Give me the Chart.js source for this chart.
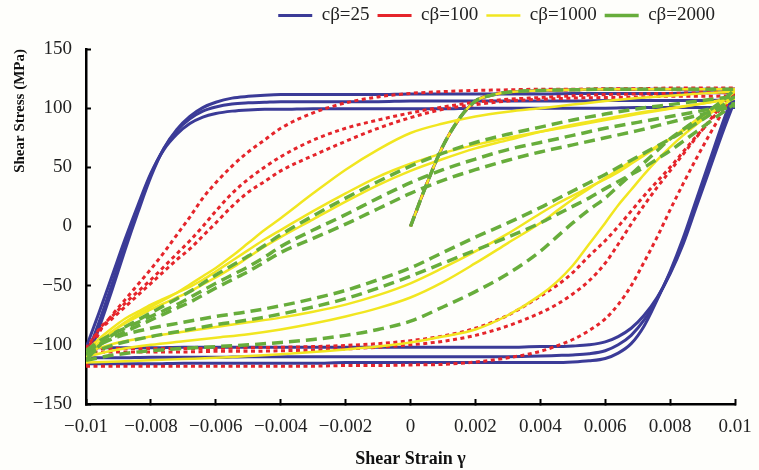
<!DOCTYPE html>
<html lang="en">
<head>
    <meta charset="UTF-8">
    <title>Shear stress - shear strain loops</title>
    <script src="https://cdn.jsdelivr.net/npm/chart.js"></script>
    <style>
        body {
            margin: 0;
            background: #fefefb;
        }
        .chart-box {
            width: 759px;
            height: 470px;
        }
    </style>
</head>
<body>
    <div class="chart-box">
        <canvas id="loopChart" width="759" height="470"></canvas>
    </div>

    <script>
        // strain grids: loading branches are sampled finer near -0.01, unloading near +0.01
        const strainUp = [-0.01, -0.0096, -0.0092, -0.0088, -0.0084, -0.008, -0.0076, -0.0072, -0.0068, -0.0064,
            -0.006, -0.0055, -0.005, -0.0045, -0.004, -0.003, -0.002, -0.001, 0,
            0.001, 0.002, 0.003, 0.004, 0.005, 0.006, 0.007, 0.008, 0.009, 0.01];
        const strainDown = [-0.01, -0.009, -0.008, -0.007, -0.006, -0.005, -0.004, -0.003, -0.002, -0.001,
            0, 0.001, 0.002, 0.003, 0.004, 0.0045, 0.005, 0.0055, 0.006,
            0.0064, 0.0068, 0.0072, 0.0076, 0.008, 0.0084, 0.0088, 0.0092, 0.0096, 0.01];

        // first loading from the origin (MPa)
        const strainFirst = [0, 0.0005, 0.001, 0.0015, 0.002, 0.0025, 0.003, 0.004, 0.005, 0.006, 0.007, 0.008, 0.009, 0.01];
        const stressFirst = [0, 36, 68, 91, 106, 111, 113.5, 115, 115.5, 116, 116, 116, 116, 116];

        const seriesLabels = ['cβ=25', 'cβ=100', 'cβ=1000', 'cβ=2000'];
        const strainLabels = ['−0.01', '−0.008', '−0.006', '−0.004', '−0.002', '0', '0.002', '0.004', '0.006', '0.008', '0.01'];
        const stressLabels = ['−150', '−100', '−50', '0', '50', '100', '150'];

        // cβ = 25
        const blueDown1 = [-116, -116, -116, -115.5, -115.5, -115.5, -115.5, -115.5, -115, -115, -115, -115, -115, -115, -115, -115, -114.5, -113.5, -111.5, -107, -99, -84, -62, -38, -10, 22, 54, 86, 116];
        const blueUp1 = [-116, -86, -54, -20, 12, 42, 66, 82, 93, 100.5, 105, 108.5, 110, 111, 111.5, 111.5, 111.5, 111.5, 112, 112, 112, 112, 112, 112.5, 112.5, 112.5, 112.5, 113, 113];
        const blueDown2 = [-111, -111, -110.5, -110.5, -110.5, -110, -110, -110, -110, -110, -110, -110, -110, -110, -109.5, -109, -108.5, -107.5, -105, -100, -92, -79, -61, -39, -13, 19, 51, 83, 113];
        const blueUp2 = [-111, -81, -49, -16, 15, 44, 66, 81, 91, 97.5, 101, 103.5, 104.5, 105, 105.5, 105.5, 105.5, 105.5, 106, 106, 106, 106, 106, 106, 106.5, 106.5, 106.5, 106.5, 107];
        const blueDown3 = [-102.5, -102.5, -102.5, -102, -102, -102, -102, -102, -102, -102, -102, -102, -102, -102, -101.5, -101.5, -101, -100, -97.5, -93, -86, -75, -60, -40, -15, 16, 47, 78, 107];
        const blueUp3 = [-102.5, -73, -42, -11, 18, 45, 65, 78, 87, 92.5, 95.5, 97.5, 98.5, 99, 99, 99.5, 99.5, 99.5, 99.5, 99.5, 100, 100, 100, 100, 100, 100.5, 100.5, 100.5, 100.5];

        // cβ = 100
        const redDown1 = [-118, -118, -118, -118, -118, -118, -118, -118, -117.5, -117.5, -117, -116.5, -114.5, -111, -105.5, -101, -95.5, -88, -78, -66, -50, -30, -9, 14, 36, 57, 77, 96, 116];
        const redUp1 = [-118, -90, -75, -62, -49, -36, -22, -7, 8, 24, 37, 51, 63, 73, 83, 96, 104.5, 109.5, 112.5, 114, 115, 115.5, 116, 116, 116.5, 116.5, 117, 117, 117];
        const redDown2 = [-106, -106, -106, -106, -105.5, -105.5, -105, -104.5, -103.5, -102, -100, -97, -92, -84, -73, -66, -57, -46, -31, -15, 2, 18, 33, 47, 61, 75, 89, 103, 117];
        const redUp2 = [-106, -87, -76, -65, -55, -45, -34, -23, -12, 0, 13, 28, 40, 50, 59, 73, 83, 90, 96, 101, 105, 107.5, 109, 110.5, 111.5, 112, 112.5, 113, 113.5];
        const redDown3 = [-103, -103, -103, -103, -103, -102.5, -102, -101.5, -100.5, -99, -96.5, -92.5, -86, -75, -59, -50, -39, -25, -12, 0, 13, 26, 38, 50, 63, 76, 88, 101, 113.5];
        const redUp3 = [-103, -88, -78, -68, -58, -48, -38, -28, -19, -8, 3, 17, 29, 38, 47, 60, 72, 83, 92, 99, 103, 106, 107.5, 108.5, 109, 109.5, 110, 110, 110.5];

        // cβ = 1000
        const yellowDown1 = [-115, -114, -113, -112, -111, -109.5, -108, -106, -104, -101.5, -98, -93, -87, -75, -58, -47, -33, -15, 3, 18, 31, 44, 56, 67, 77, 86, 95, 105, 116];
        const yellowUp1 = [-115, -100, -89, -81, -74, -68, -62, -56, -49, -42, -35, -25, -14, -3, 7, 28, 48, 65, 79, 87, 93, 97, 100, 103, 106, 108.5, 110.5, 112.5, 114];
        const yellowDown2 = [-106, -98, -93, -89, -85, -81, -77, -72, -66, -58, -48, -35, -21, -6, 11, 19, 26, 33, 40, 46, 53, 60, 67, 74, 82, 90, 98, 106, 114];
        const yellowUp2 = [-106, -95, -86, -78, -72, -66, -61, -56, -51, -45, -38, -29, -20, -11, -3, 13, 28, 42, 53, 62, 69, 75, 80, 85, 90, 95, 99.5, 104, 109];
        const yellowDown3 = [-110, -104, -100, -97, -94, -91, -87, -82, -76, -69, -60, -47, -31, -14, 3, 13, 23, 32, 41, 48, 55, 61, 68, 74, 81, 88, 95, 102, 109];
        const yellowUp3 = [-110, -98, -89, -82, -76, -70, -65, -60, -55, -49, -43, -35, -26, -17, -9, 6, 21, 35, 47, 57, 66, 73, 80, 86, 91, 96, 100, 104, 108];

        // cβ = 2000
        const greenDown1 = [-113, -108, -105, -103, -101.5, -100, -98, -95.5, -92, -87, -80, -68, -55, -40, -21, -9, 3, 14, 24, 34, 44, 54, 64, 74, 82, 90, 98, 106, 116];
        const greenUp1 = [-113, -101, -92, -85, -79, -73, -67, -61, -55, -48, -41, -33, -25, -16, -7, 9, 24, 38, 51, 62, 71, 78, 84, 90, 95, 99.5, 103, 106.5, 110];
        const greenDown2 = [-105, -93, -86, -81, -76, -72, -67, -61, -54, -45, -35, -22, -9, 3, 16, 23, 30, 37, 44, 50, 56, 62, 68, 74, 80, 87, 94, 102, 110];
        const greenUp2 = [-105, -97, -91, -86, -81, -76, -71, -66, -60, -54, -48, -41, -34, -26, -17, -3, 10, 24, 37, 48, 57, 65, 71, 77, 83, 88, 93, 98, 104];
        const greenDown3 = [-108, -99, -93, -88, -83, -79, -74, -68, -61, -52, -42, -31, -20, -9, 3, 10, 17, 24, 32, 38, 44, 50, 57, 64, 72, 80, 88, 96, 104];
        const greenUp3 = [-108, -100, -94, -89, -84, -79, -74, -69, -64, -58, -52, -45, -38, -30, -22, -10, 2, 15, 28, 39, 48, 56, 63, 69, 75, 81, 88, 95, 102];

        // line look per series; lower order is painted on top
        const lineStyles = [
            { color: '#3b3b97', width: 3, dash: [], order: 3 },
            { color: '#e5252b', width: 3, dash: [4, 3.5], order: 2 },
            { color: '#f1e620', width: 2.5, dash: [], order: 1 },
            { color: '#67ad3b', width: 3.5, dash: [11, 6], order: 0 }
        ];

        function points(xs, ys) {
            return xs.map((x, i) => ({ x: x, y: ys[i] }));
        }

        function loopDatasets(k, downs, ups) {
            const s = lineStyles[k];
            const common = {
                label: seriesLabels[k],
                borderColor: s.color,
                backgroundColor: s.color,
                borderWidth: s.width,
                borderDash: s.dash,
                pointRadius: 0,
                fill: false,
                cubicInterpolationMode: 'monotone',
                order: s.order
            };
            const sets = [Object.assign({ data: points(strainFirst, stressFirst), inLegend: true }, common)];
            for (let i = 0; i < downs.length; i++) {
                sets.push(Object.assign({ data: points(strainDown, downs[i]) }, common));
                sets.push(Object.assign({ data: points(strainUp, ups[i]) }, common));
            }
            return sets;
        }

        const datasets = [].concat(
            loopDatasets(0, [blueDown1, blueDown2, blueDown3], [blueUp1, blueUp2, blueUp3]),
            loopDatasets(1, [redDown1, redDown2, redDown3], [redUp1, redUp2, redUp3]),
            loopDatasets(2, [yellowDown1, yellowDown2, yellowDown3], [yellowUp1, yellowUp2, yellowUp3]),
            loopDatasets(3, [greenDown1, greenDown2, greenDown3], [greenUp1, greenUp2, greenUp3])
        );

        // move the legend up towards the top edge and a bit in from the right
        const legendNudge = {
            id: 'legendNudge',
            afterLayout(chart) {
                const lg = chart.legend;
                lg.top -= 14;
                lg.bottom -= 14;
                lg.left -= 36;
                lg.right -= 36;
            }
        };

        const tickFont = { family: 'Liberation Serif', size: 19 };
        const axisLine = { display: true, color: '#000', width: 2.5 };
        const inwardTicks = { drawOnChartArea: false, tickLength: -5, tickWidth: 2, tickColor: '#000' };

        new Chart(document.getElementById('loopChart').getContext('2d'), {
            type: 'line',
            data: { datasets: datasets },
            plugins: [legendNudge],
            options: {
                responsive: false,
                animation: false,
                layout: { padding: { top: 12, left: 4, right: 0, bottom: 0 } },
                plugins: {
                    tooltip: { enabled: false },
                    legend: {
                        position: 'top',
                        align: 'end',
                        reverse: true,
                        labels: {
                            usePointStyle: true,
                            pointStyle: 'line',
                            pointStyleWidth: 34,
                            padding: 8,
                            color: '#222',
                            font: tickFont,
                            filter: (item, data) => data.datasets[item.datasetIndex].inLegend === true
                        }
                    }
                },
                scales: {
                    x: {
                        type: 'linear',
                        min: -0.01,
                        max: 0.01,
                        afterFit: (scale) => {
                            scale.height = 66;
                            // only leave room for half of the last tick label
                            scale.paddingRight = 24;
                        },
                        border: axisLine,
                        grid: inwardTicks,
                        ticks: {
                            stepSize: 0.002,
                            padding: 17,
                            color: '#222',
                            font: tickFont,
                            maxRotation: 0,
                            callback: (value, index) => strainLabels[index]
                        },
                        title: {
                            display: true,
                            text: 'Shear Strain γ',
                            color: '#111',
                            font: { family: 'Liberation Serif', size: 18, weight: 'bold' },
                            padding: { top: 0, bottom: 0 }
                        }
                    },
                    y: {
                        min: -150,
                        max: 150,
                        afterFit: (scale) => { scale.width = 82; },
                        border: axisLine,
                        grid: inwardTicks,
                        ticks: {
                            stepSize: 50,
                            padding: 19,
                            color: '#222',
                            font: tickFont,
                            callback: (value, index) => stressLabels[index]
                        },
                        title: {
                            display: true,
                            text: 'Shear Stress (MPa)',
                            align: 'end',
                            color: '#111',
                            font: { family: 'Liberation Serif', size: 15, weight: 'bold' },
                            padding: { top: 7, bottom: 0 }
                        }
                    }
                }
            }
        });
    </script>
</body>
</html>
